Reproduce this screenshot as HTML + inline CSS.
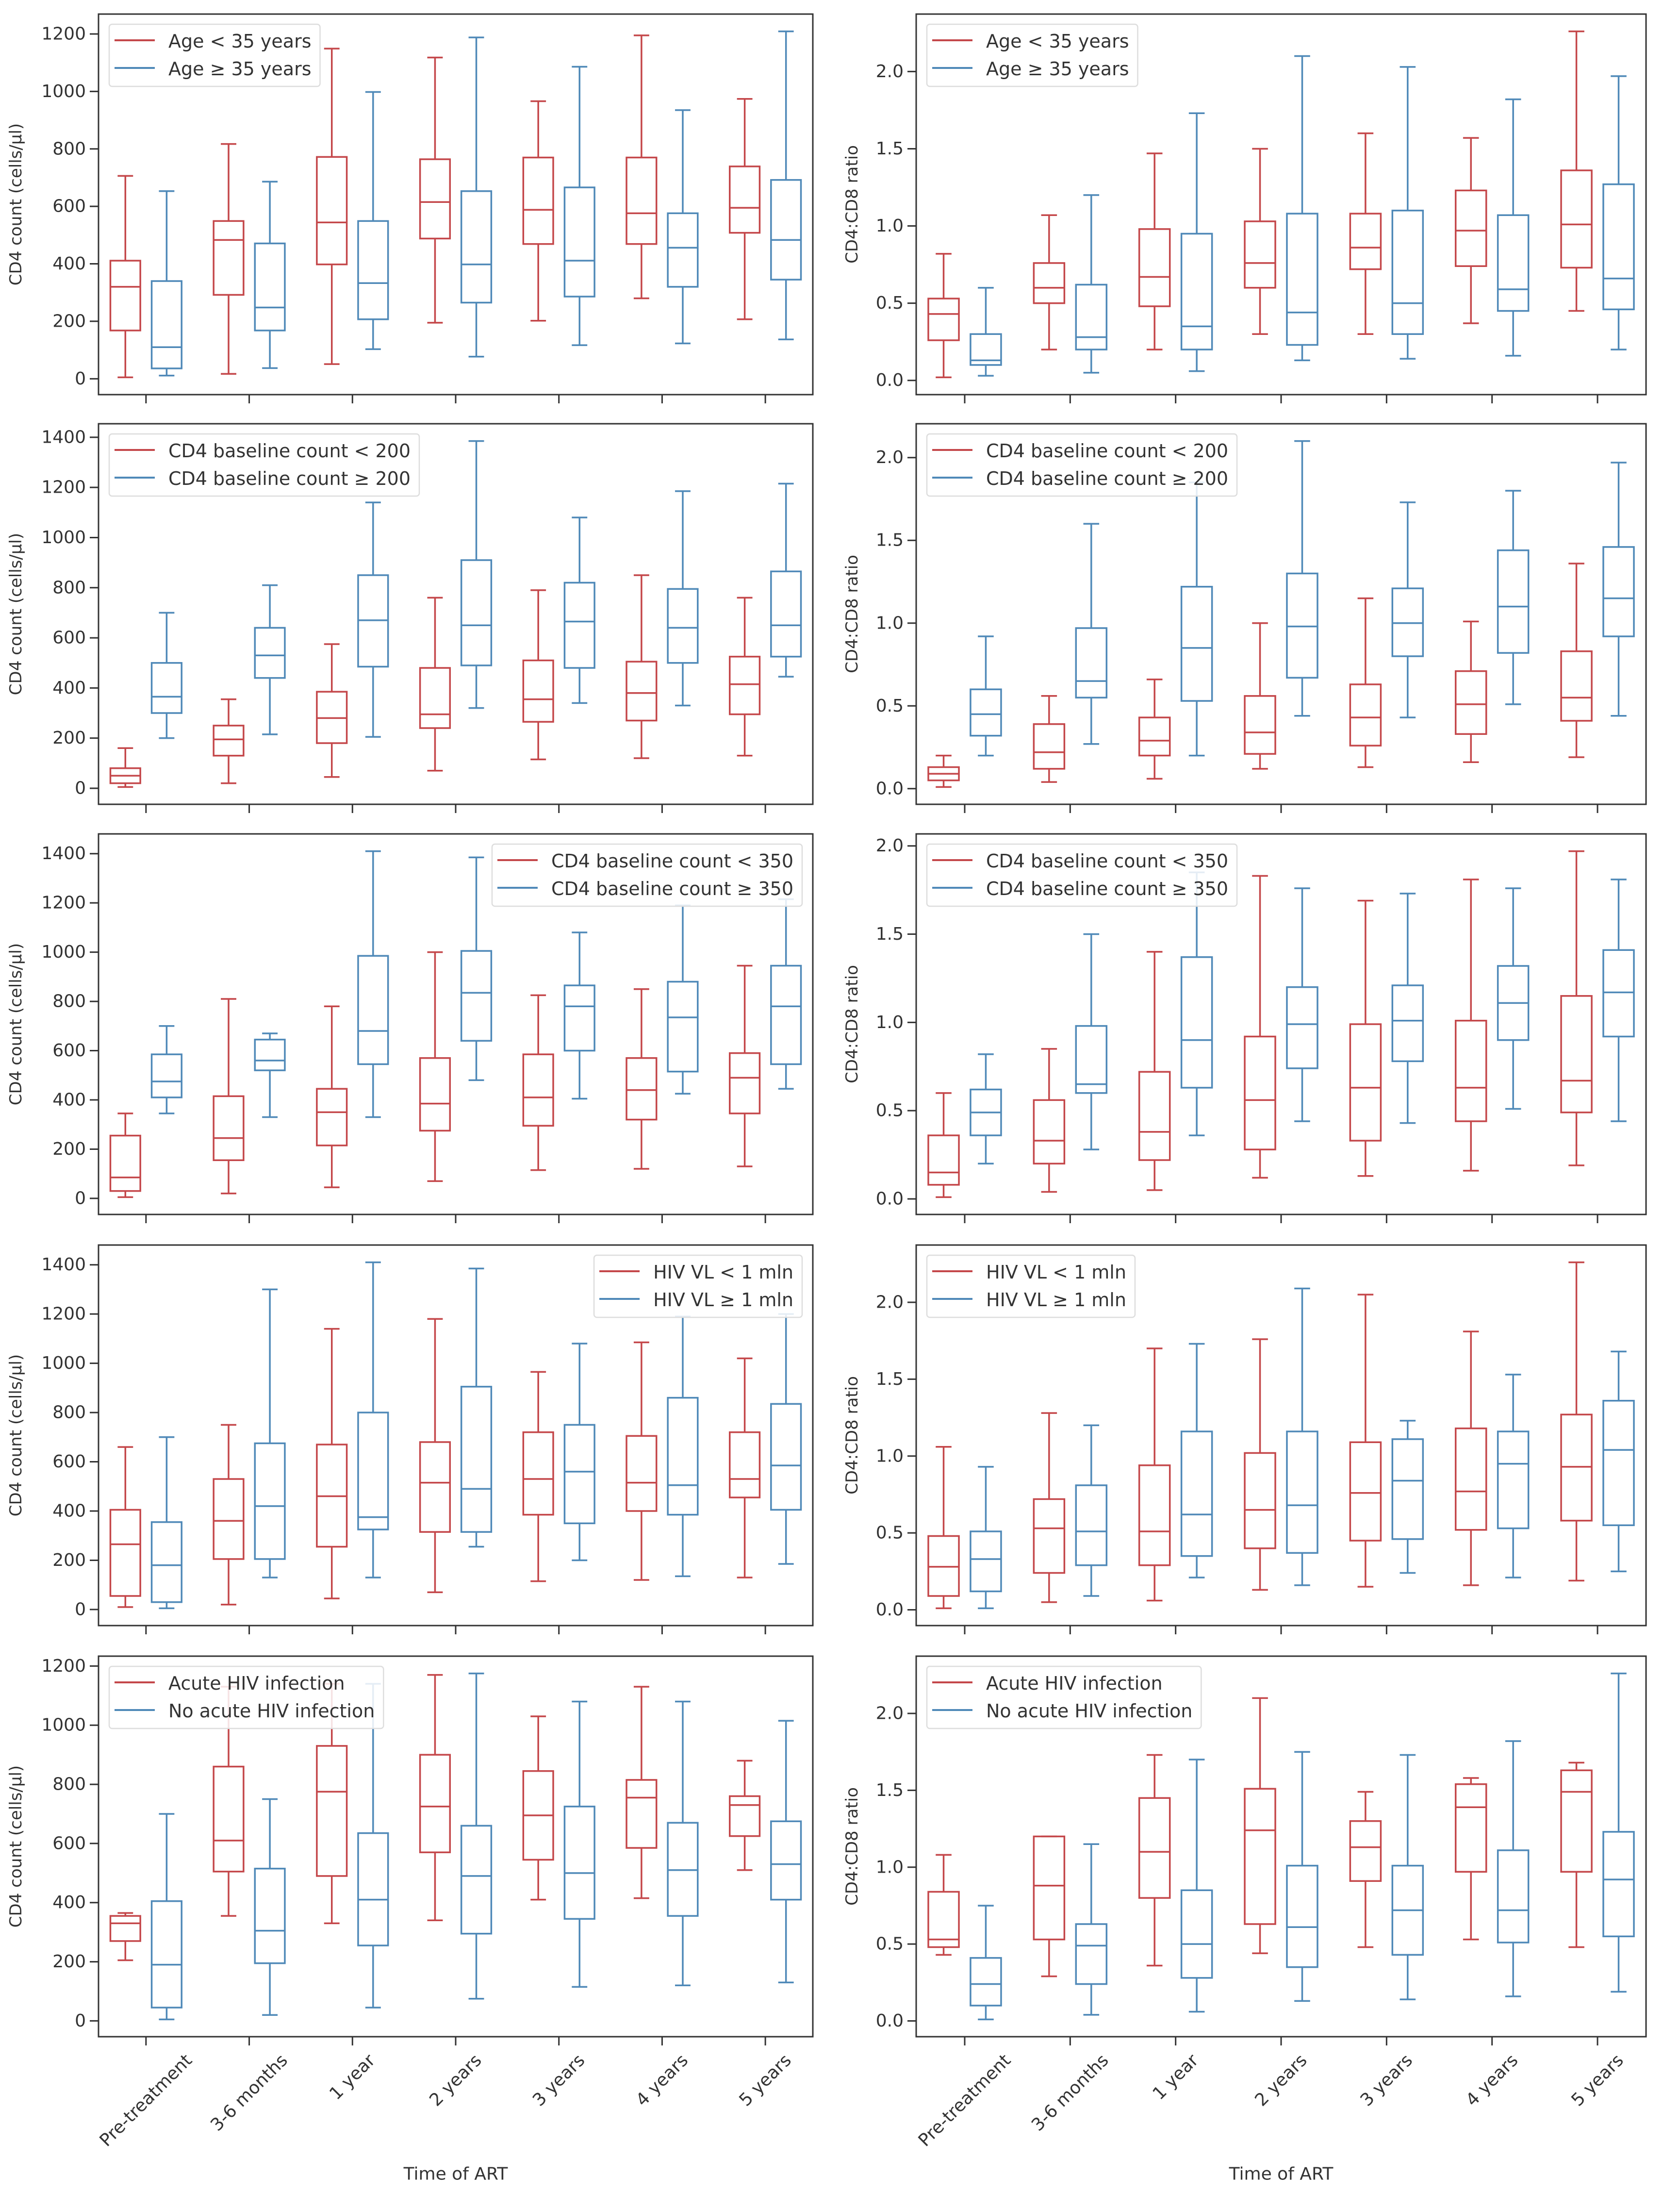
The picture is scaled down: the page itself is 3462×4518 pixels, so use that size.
<!DOCTYPE html>
<html><head><meta charset="utf-8"><style>
html,body{margin:0;padding:0;background:#fff;}
svg{display:block;font-family:"DejaVu Sans","Liberation Sans",sans-serif;}
</style></head>
<body>
<svg id="fig" width="3462" height="4518" viewBox="0 0 3462 4518" xmlns="http://www.w3.org/2000/svg"></svg>
<script>
const categories = ["Pre-treatment","3-6 months","1 year","2 years","3 years","4 years","5 years"];
// each entry: [whisker low, Q1, median, Q3, whisker high]
const ageCd4Red = [[5,168,320,411,706],[17,292,483,549,817],[51,398,544,772,1149],[195,488,615,764,1118],[202,469,588,770,966],[280,469,576,770,1195],[207,508,595,739,974]];
const ageCd4Blue = [[11,36,110,340,653],[37,168,248,471,686],[103,207,333,549,998],[77,265,398,653,1188],[117,286,411,666,1086],[123,320,456,576,935],[137,345,483,692,1209]];
const ageRatioRed = [[0.02,0.26,0.43,0.53,0.82],[0.2,0.5,0.6,0.76,1.07],[0.2,0.48,0.67,0.98,1.47],[0.3,0.6,0.76,1.03,1.5],[0.3,0.72,0.86,1.08,1.6],[0.37,0.74,0.97,1.23,1.57],[0.45,0.73,1.01,1.36,2.26]];
const ageRatioBlue = [[0.03,0.1,0.13,0.3,0.6],[0.05,0.2,0.28,0.62,1.2],[0.06,0.2,0.35,0.95,1.73],[0.13,0.23,0.44,1.08,2.1],[0.14,0.3,0.5,1.1,2.03],[0.16,0.45,0.59,1.07,1.82],[0.2,0.46,0.66,1.27,1.97]];
const b200Cd4Red = [[5,20,50,80,160],[20,130,195,250,355],[45,180,280,385,575],[70,240,295,480,760],[115,265,355,510,790],[120,270,380,505,850],[130,295,415,525,760]];
const b200Cd4Blue = [[200,300,365,500,700],[215,440,530,640,810],[205,485,670,850,1140],[320,490,650,910,1385],[340,480,665,820,1080],[330,500,640,795,1185],[445,525,650,865,1215]];
const b200RatioRed = [[0.01,0.05,0.09,0.13,0.2],[0.04,0.12,0.22,0.39,0.56],[0.06,0.2,0.29,0.43,0.66],[0.12,0.21,0.34,0.56,1.0],[0.13,0.26,0.43,0.63,1.15],[0.16,0.33,0.51,0.71,1.01],[0.19,0.41,0.55,0.83,1.36]];
const b200RatioBlue = [[0.2,0.32,0.45,0.6,0.92],[0.27,0.55,0.65,0.97,1.6],[0.2,0.53,0.85,1.22,1.85],[0.44,0.67,0.98,1.3,2.1],[0.43,0.8,1.0,1.21,1.73],[0.51,0.82,1.1,1.44,1.8],[0.44,0.92,1.15,1.46,1.97]];
const b350Cd4Red = [[5,30,85,255,345],[20,155,245,415,810],[45,215,350,445,780],[70,275,385,570,1000],[115,295,410,585,825],[120,320,440,570,850],[130,345,490,590,945]];
const b350Cd4Blue = [[345,410,475,585,700],[330,520,560,645,670],[330,545,680,985,1410],[480,640,835,1005,1385],[405,600,780,865,1080],[425,515,735,880,1190],[445,545,780,945,1215]];
const b350RatioRed = [[0.01,0.08,0.15,0.36,0.6],[0.04,0.2,0.33,0.56,0.85],[0.05,0.22,0.38,0.72,1.4],[0.12,0.28,0.56,0.92,1.83],[0.13,0.33,0.63,0.99,1.69],[0.16,0.44,0.63,1.01,1.81],[0.19,0.49,0.67,1.15,1.97]];
const b350RatioBlue = [[0.2,0.36,0.49,0.62,0.82],[0.28,0.6,0.65,0.98,1.5],[0.36,0.63,0.9,1.37,1.85],[0.44,0.74,0.99,1.2,1.76],[0.43,0.78,1.01,1.21,1.73],[0.51,0.9,1.11,1.32,1.76],[0.44,0.92,1.17,1.41,1.81]];
const vlCd4Red = [[10,55,265,405,660],[20,205,360,530,750],[45,255,460,670,1140],[70,315,515,680,1180],[115,385,530,720,965],[120,400,515,705,1085],[130,455,530,720,1020]];
const vlCd4Blue = [[5,30,180,355,700],[130,205,420,675,1300],[130,325,375,800,1410],[255,315,490,905,1385],[200,350,560,750,1080],[135,385,505,860,1190],[185,405,585,835,1200]];
const vlRatioRed = [[0.01,0.09,0.28,0.48,1.06],[0.05,0.24,0.53,0.72,1.28],[0.06,0.29,0.51,0.94,1.7],[0.13,0.4,0.65,1.02,1.76],[0.15,0.45,0.76,1.09,2.05],[0.16,0.52,0.77,1.18,1.81],[0.19,0.58,0.93,1.27,2.26]];
const vlRatioBlue = [[0.01,0.12,0.33,0.51,0.93],[0.09,0.29,0.51,0.81,1.2],[0.21,0.35,0.62,1.16,1.73],[0.16,0.37,0.68,1.16,2.09],[0.24,0.46,0.84,1.11,1.23],[0.21,0.53,0.95,1.16,1.53],[0.25,0.55,1.04,1.36,1.68]];
const acuteCd4Red = [[205,270,330,355,365],[355,505,610,860,1130],[330,490,775,930,1140],[340,570,725,900,1170],[410,545,695,845,1030],[415,585,755,815,1130],[510,625,730,760,880]];
const acuteCd4Blue = [[5,45,190,405,700],[20,195,305,515,750],[45,255,410,635,1140],[75,295,490,660,1175],[115,345,500,725,1080],[120,355,510,670,1080],[130,410,530,675,1015]];
const acuteRatioRed = [[0.43,0.48,0.53,0.84,1.08],[0.29,0.53,0.88,1.2,1.2],[0.36,0.8,1.1,1.45,1.73],[0.44,0.63,1.24,1.51,2.1],[0.48,0.91,1.13,1.3,1.49],[0.53,0.97,1.39,1.54,1.58],[0.48,0.97,1.49,1.63,1.68]];
const acuteRatioBlue = [[0.01,0.1,0.24,0.41,0.75],[0.04,0.24,0.49,0.63,1.15],[0.06,0.28,0.5,0.85,1.7],[0.13,0.35,0.61,1.01,1.75],[0.14,0.43,0.72,1.01,1.73],[0.16,0.51,0.72,1.11,1.82],[0.19,0.55,0.92,1.23,2.26]];

const RED = "#c4474a", BLUE = "#4f89b8", SPINE = "#333";
const NS = "http://www.w3.org/2000/svg";
const svg = document.getElementById("fig");
function mk(tag, attrs, parent){ const e=document.createElementNS(NS,tag); for(const k in attrs) e.setAttribute(k,attrs[k]); (parent||svg).appendChild(e); return e; }

const rowTops = [29, 873, 1718, 2565, 3412];
const panelH = 784;
const cols = [{x0:203,x1:1675},{x0:1888,x1:3392}];
const rows = [
 {name:"age", legend:["Age < 35 years","Age \u2265 35 years"], left:[ageCd4Red,ageCd4Blue], right:[ageRatioRed,ageRatioBlue], legL:"left", legR:"left"},
 {name:"baseline-200", legend:["CD4 baseline count < 200","CD4 baseline count \u2265 200"], left:[b200Cd4Red,b200Cd4Blue], right:[b200RatioRed,b200RatioBlue], legL:"left", legR:"left"},
 {name:"baseline-350", legend:["CD4 baseline count < 350","CD4 baseline count \u2265 350"], left:[b350Cd4Red,b350Cd4Blue], right:[b350RatioRed,b350RatioBlue], legL:"right", legR:"left"},
 {name:"viral-load", legend:["HIV VL < 1 mln","HIV VL \u2265 1 mln"], left:[vlCd4Red,vlCd4Blue], right:[vlRatioRed,vlRatioBlue], legL:"right", legR:"left"},
 {name:"acute-infection", legend:["Acute HIV infection","No acute HIV infection"], left:[acuteCd4Red,acuteCd4Blue], right:[acuteRatioRed,acuteRatioBlue], legL:"left", legR:"left"}
];

function drawPanel(ri, ci, series, legendPos, legendText, isLast){
  const top = rowTops[ri], bot = top + panelH;
  const {x0,x1} = cols[ci];
  const isRatio = ci===1;
  const g = mk("g",{});
  
  
  let mn=Infinity,mx=-Infinity;
  series.forEach(s=>s.forEach(v=>v.forEach(x=>{mn=Math.min(mn,x);mx=Math.max(mx,x);})));
  const pad=(mx-mn)*0.05, dmin=mn-pad, dmax=mx+pad;
  const y = v => bot - (v-dmin)/(dmax-dmin)*panelH;
  const xs = p => x0 + (p-0.54)/(7.46-0.54)*(x1-x0);
  const unit = (x1-x0)/(7.46-0.54);
  // y ticks
  const step = isRatio?0.5:200;
  for(let t=0; t<=dmax+1e-9; t+=step){
    const yy=y(t);
    const tl = mk("line",{x1:x0-18,x2:x0,y1:yy,y2:yy,stroke:SPINE,"stroke-width":3},g);
    
    
    const tx = mk("text",{x:x0-26,y:yy,"text-anchor":"end","dominant-baseline":"central","font-size":36,fill:"#333"},g);
    tx.textContent = isRatio? t.toFixed(1) : String(Math.round(t));
    
    
  }
  // y label
  const yl = mk("text",{x:0,y:0,"text-anchor":"middle","dominant-baseline":"central","font-size":34,fill:"#333",transform:`translate(${isRatio?1756:33},${top+panelH/2}) rotate(-90)`},g);
  yl.textContent = isRatio? "CD4:CD8 ratio" : "CD4 count (cells/\u00b5l)";
  
  
  // boxes
  const colors=[RED,BLUE], offs=[-0.2,0.2];
  series.forEach((s,si)=>{
    s.forEach((v,k)=>{
      const cx = xs(k+1+offs[si]);
      const bw = 0.29*unit/2, cw = 0.15*unit/2;
      const bg = mk("g",{stroke:colors[si],"stroke-width":3.5,fill:"none"},g);
      
      
      mk("rect",{x:cx-bw,y:y(v[3]),width:2*bw,height:y(v[1])-y(v[3])},bg);
      mk("line",{x1:cx-bw,x2:cx+bw,y1:y(v[2]),y2:y(v[2])},bg);
      mk("line",{x1:cx,x2:cx,y1:y(v[3]),y2:y(v[4])},bg);
      mk("line",{x1:cx,x2:cx,y1:y(v[1]),y2:y(v[0])},bg);
      mk("line",{x1:cx-cw,x2:cx+cw,y1:y(v[4]),y2:y(v[4])},bg);
      mk("line",{x1:cx-cw,x2:cx+cw,y1:y(v[0]),y2:y(v[0])},bg);
    });
  });
  // x ticks
  categories.forEach((c,k)=>{
    const xx = xs(k+1);
    const tk = mk("line",{x1:xx,x2:xx,y1:bot,y2:bot+18,stroke:SPINE,"stroke-width":3},g);
    
    
    if(isLast){
      const t = mk("text",{x:0,y:0,"text-anchor":"middle","dominant-baseline":"central","font-size":36,fill:"#333"},g);
      t.textContent=c;
      
      
      const w=t.getComputedTextLength(), h=36;
      const half=(w+h)*0.7071/2;
      t.setAttribute("transform",`translate(${xx},${bot+30+half}) rotate(-45)`);
    }
  });
  // spines
  const fr = mk("rect",{x:x0,y:top,width:x1-x0,height:panelH,fill:"none",stroke:SPINE,"stroke-width":3},g);
  
  
  // legend
  const lg = mk("g",{},g);
  
  
  const texts=[];
  legendText.forEach((s,i)=>{
    const t=mk("text",{x:0,y:0,"dominant-baseline":"central","font-size":38,fill:"#333"},lg);
    t.textContent=s;
    
    
    texts.push(t);
  });
  const tw=Math.max(...texts.map(t=>t.getComputedTextLength()));
  const lw = 122 + tw + 18, lh = 128;
  const lx = legendPos==="left" ? x0+22 : x1-22-lw, ly = top+21;
  const box = mk("rect",{x:lx,y:ly,width:lw,height:lh,rx:6,fill:"#fff","fill-opacity":0.85,stroke:"#ddd","stroke-width":2.5},lg);
  lg.insertBefore(box, lg.firstChild);
  legendText.forEach((s,i)=>{
    const yy = ly+33+i*57;
    const ln = mk("line",{x1:lx+11,x2:lx+94,y1:yy,y2:yy,stroke:colors[i],"stroke-width":4},lg);
    
    
    texts[i].setAttribute("x",lx+122);
    texts[i].setAttribute("y",yy+2);
  });
}

rows.forEach((r,ri)=>{
  drawPanel(ri,0,r.left,r.legL,r.legend,ri===4);
  drawPanel(ri,1,r.right,r.legR,r.legend,ri===4);
});
[[939],[2640]].forEach(([cx])=>{
  const t=mk("text",{x:cx,y:4479,"text-anchor":"middle","dominant-baseline":"central","font-size":36,fill:"#333"});
  t.textContent="Time of ART";
  
  
});
</script>
</body></html>
